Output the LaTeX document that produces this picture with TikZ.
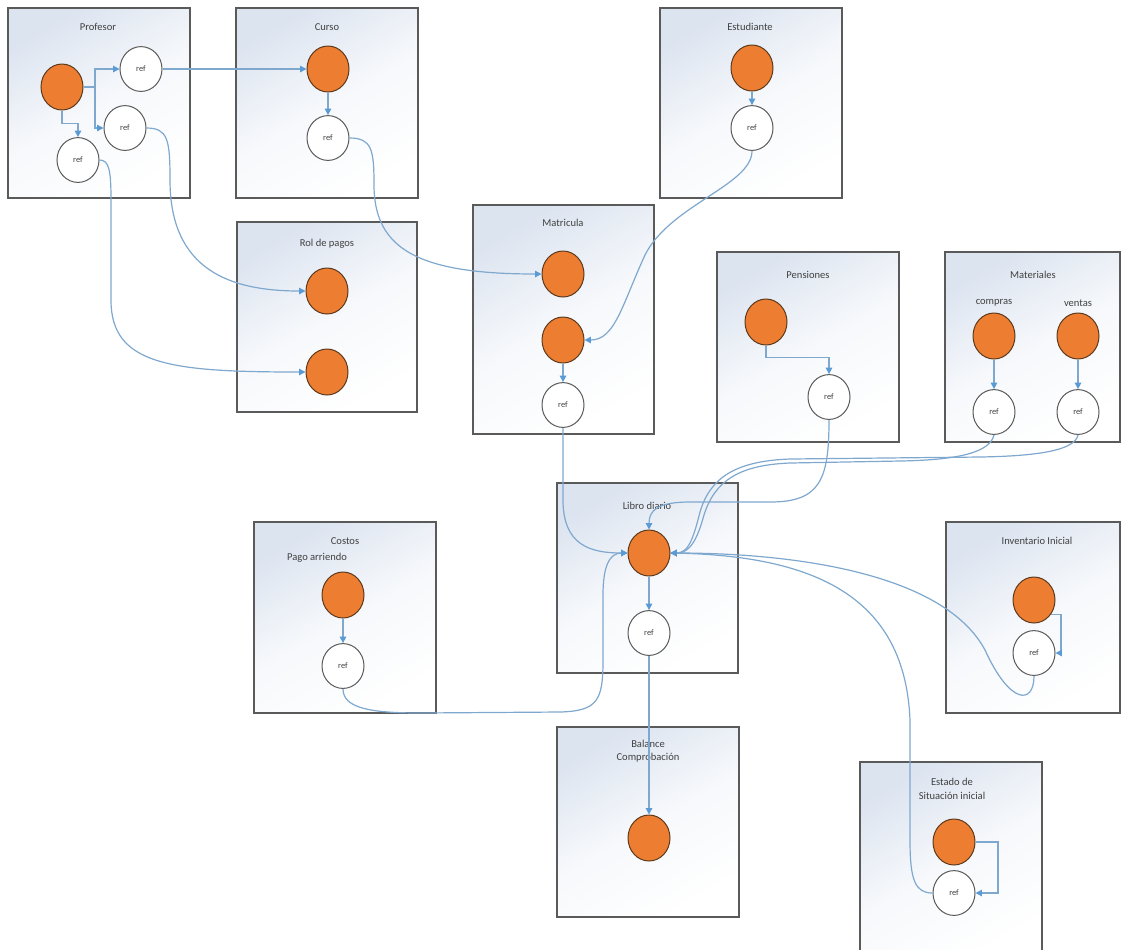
\documentclass[tikz,border=0pt]{standalone}
\usepackage{fontspec}
\setmainfont{Carlito}
\usepackage{tikz}
\usetikzlibrary{shapes.geometric, arrows.meta, calc}
\definecolor{panelline}{HTML}{5A5A5A}
\definecolor{paneltint}{HTML}{DCE4F0}
\definecolor{blob}{HTML}{ED7D31}
\definecolor{blobline}{HTML}{5C3A1E}
\definecolor{wire}{HTML}{7FA8CF}
\definecolor{tipblue}{HTML}{5B9BD5}
\definecolor{ink}{HTML}{404040}

\begin{document}
\begin{tikzpicture}[
  x=0.25mm, y=-0.25mm,
  panel/.style={draw=panelline, line width=0.28mm, top color=paneltint,
                bottom color=white, middle color=paneltint!25, shading angle=30},
  ttl/.style={font=\fontsize{7.5}{9.5}\selectfont, text=ink, align=center, inner sep=0pt},
  dot/.style={ellipse, draw=blobline, line width=0.25mm, fill=blob,
              minimum width=10.5mm, minimum height=11.5mm, inner sep=0pt},
  refc/.style={ellipse, draw=panelline, line width=0.25mm, fill=white,
               minimum width=10.5mm, minimum height=11.2mm, inner sep=0pt,
               font=\fontsize{6}{7}\selectfont, text=ink},
  arr/.style={draw=wire, line width=0.3mm,
              -{Triangle[length=1.6mm, width=1.6mm, color=tipblue]}}
]
  \useasboundingbox (0,0) rectangle (1122,949);
  \clip (0,0) rectangle (1122,949);

  % panels
  \path[panel] (8,8) rectangle (190,198);
  \path[panel] (236,8) rectangle (418,198);
  \path[panel] (660,8) rectangle (842,198);
  \path[panel] (237,222) rectangle (417,412);
  \path[panel] (473,205) rectangle (654,434);
  \path[panel] (717,252) rectangle (899,442);
  \path[panel] (945,252) rectangle (1120,442);
  \path[panel] (557,483) rectangle (738,673);
  \path[panel] (254,522) rectangle (436,713);
  \path[panel] (946,522) rectangle (1120,713);
  \path[panel] (557,727) rectangle (739,917);
  \path[panel] (860,762) rectangle (1042,960);

  % titles
  \node[ttl] (tProf) at (98,27) {Profesor};
  \node[ttl] (tCurso) at (327,27) {Curso};
  \node[ttl] (tStud) at (750,27) {Estudiante};
  \node[ttl] (tRol) at (327,244) {Rol de pagos};
  \node[ttl] (tMat) at (563,223) {Matricula};
  \node[ttl] (tPen) at (808,275) {Pensiones};
  \node[ttl] (tMater) at (1033,275) {Materiales};
  \node[ttl] (tComp) at (994,303) {compras};
  \node[ttl] (tVent) at (1078,303) {ventas};
  \node[ttl] (tLib) at (647,506) {Libro diario};
  \node[ttl] (tCost) at (345,541) {Costos};
  \node[ttl] (tPago) at (317,558) {Pago arriendo};
  \node[ttl] (tInv) at (1037,541) {Inventario Inicial};
  \node[ttl] (tBal) at (648,751) {Balance\\Comprobación};
  \node[ttl] (tSit) at (952,789) {Estado de\\Situación inicial};

  % nodes
  \node[dot] (profA) at (62,87) {};
  \node[refc] (profR1) at (141,69) {ref};
  \node[refc] (profR2) at (125,128) {ref};
  \node[refc] (profR3) at (78,160) {ref};
  \node[dot] (cursoA) at (328,69) {};
  \node[refc] (cursoR) at (328,138) {ref};
  \node[dot] (studA) at (752,68) {};
  \node[refc] (studR) at (752,128) {ref};
  \node[dot] (rolA1) at (327,291) {};
  \node[dot] (rolA2) at (327,372) {};
  \node[dot] (matA1) at (563,274) {};
  \node[dot] (matA2) at (563,340) {};
  \node[refc] (matR) at (563,405) {ref};
  \node[dot] (penA) at (766,322) {};
  \node[refc] (penR) at (829,397) {ref};
  \node[dot] (compA) at (994,336) {};
  \node[refc] (compR) at (994,412) {ref};
  \node[dot] (ventA) at (1078,336) {};
  \node[refc] (ventR) at (1078,412) {ref};
  \node[dot] (libA) at (649,553) {};
  \node[refc] (libR) at (649,633) {ref};
  \node[dot] (costA) at (343,595) {};
  \node[refc] (costR) at (343,666) {ref};
  \node[dot] (invA) at (1034,600) {};
  \node[refc] (invR) at (1034,653) {ref};
  \node[dot] (balA) at (649,838) {};
  \node[dot] (sitA) at (954,842) {};
  \node[refc] (sitR) at (954,893) {ref};

  \coordinate (profJ) at (95,87);
  \coordinate (invK) at (1061,653);
  \coordinate (sitK) at (998,893);

  % connectors inside panels
  \draw[arr] (profA.east) -- (profJ) |- (profR1.west);
  \draw[arr] (profJ) |- (profR2.west);
  \draw[arr] (profA.south) -- ++(0,13) -| (profR3.north);
  \draw[arr] (cursoA.south) -- (cursoR.north);
  \draw[arr] (studA.south) -- (studR.north);
  \draw[arr] (matA2.south) -- (matR.north);
  \draw[arr] (penA.south) -- ++(0,12) -| (penR.north);
  \draw[arr] (compA.south) -- (compR.north);
  \draw[arr] (ventA.south) -- (ventR.north);
  \draw[arr] (libA.south) -- (libR.north);
  \draw[arr] (costA.south) -- (costR.north);
  \draw[arr] (invA.-40) -| (invK) -- (invR.east);
  \draw[arr] (sitA.east) -| (sitK) -- (sitR.east);

  % connectors between panels
  \draw[arr] (profR1.east) -- (cursoA.west);
  \draw[arr] (cursoR.east) .. controls (372,138) and (374,150) .. (374,185)
        .. controls (374,250) and (420,274) .. (matA1.west);
  \draw[arr] (studR.south) .. controls (752,185) and (670,205) .. (645,255)
        .. controls (622,305) and (615,340) .. (matA2.east);
  \draw[arr] (profR2.east) .. controls (168,128) and (170,140) .. (170,180)
        .. controls (170,270) and (230,291) .. (rolA1.west);
  \draw[arr] (profR3.east) .. controls (109,160) and (111,170) .. (111,200)
        -- (111,300) .. controls (111,365) and (170,372) .. (rolA2.west);
  \draw[arr] (matR.south) -- (563,500) .. controls (563,545) and (590,553) .. (libA.west);
  \draw[arr] (costR.south) .. controls (343,708) and (370,713) .. (420,713)
        -- (560,712) .. controls (598,711) and (603,700) .. (603,660)
        -- (603,595) .. controls (603,565) and (610,553) .. (libA.west);
  \draw[arr] (penR.south) .. controls (829,480) and (820,502) .. (770,502)
        -- (690,502) .. controls (658,502) and (649,510) .. (libA.north);
  \draw[arr] (compR.south) .. controls (990,452) and (960,460) .. (900,461)
        -- (790,463) .. controls (740,465) and (715,480) .. (704,515)
        .. controls (697,540) and (690,553) .. (libA.east);
  \draw[arr] (ventR.south) .. controls (1075,450) and (1040,456) .. (980,457)
        -- (790,459) .. controls (735,461) and (710,478) .. (700,512)
        .. controls (693,540) and (688,553) .. (libA.east);
  \draw[arr] (invR.south) .. controls (1034,705) and (1010,705) .. (985,650)
        .. controls (945,575) and (800,553) .. (libA.east);
  \draw[arr] (sitR.west) .. controls (915,893) and (910,880) .. (910,840)
        -- (910,720) .. controls (905,600) and (820,556) .. (libA.east);
  \draw[arr] (libR.south) -- (balA.north);
\end{tikzpicture}
\end{document}
